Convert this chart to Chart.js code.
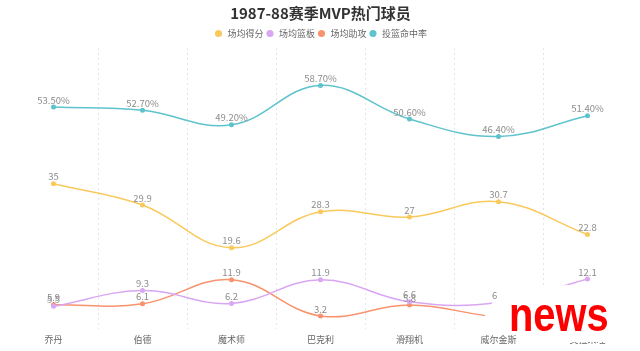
<!DOCTYPE html>
<html>
<head>
<meta charset="utf-8">
<script src="https://cdn.jsdelivr.net/npm/chart.js@4.4.1/dist/chart.umd.min.js"></script>
<style>
    html, body { margin: 0; padding: 0; background: #fff; }
    #wrap { position: relative; width: 640px; height: 351px; }
    #mask {
        position: absolute; left: 0; top: 0; width: 640px; height: 351px; background: #fff;
        clip-path: polygon(500px 292px, 530px 287px, 568px 285px, 630px 284px, 630px 342px, 518px 342px, 516px 333px, 500px 326px, 484px 318px, 487px 310px, 492px 303px, 498px 297px);
    }
    #news {
        position: absolute; left: 509px; top: 291px;
        font: bold 48px "Liberation Sans", Arial, sans-serif; line-height: 48px;
        color: #ff0000; transform: scaleX(0.83); transform-origin: left top;
    }
</style>
</head>
<body>
<div id="wrap">
    <canvas id="myChart" width="640" height="351"></canvas>
    <div id="mask"></div>
    <div id="news">news</div>
</div>
<script>
const players = ['乔丹', '伯德', '魔术师', '巴克利', '滑翔机', '威尔金斯', '奥拉朱旺'];
const points = [35, 29.9, 19.6, 28.3, 27, 30.7, 22.8];
const rebounds = [5.5, 9.3, 6.2, 11.9, 6.6, 6.4, 12.1];
const assists = [5.9, 6.1, 11.9, 3.2, 5.8, 2.9, 2.1];
const fgPct = [53.5, 52.7, 49.2, 58.7, 50.6, 46.4, 51.4];

Chart.defaults.font.family = '"Noto Sans CJK SC", "Noto Sans", sans-serif';

// draws the number above each point
const valueLabels = {
    id: 'valueLabels',
    afterDatasetsDraw(chart) {
        const c = chart.ctx;
        c.save();
        c.font = '9.5px "Noto Sans CJK SC", sans-serif';
        c.fillStyle = '#8c8c8c';
        c.textAlign = 'center';
        c.textBaseline = 'middle';
        chart.data.datasets.forEach((ds, i) => {
            chart.getDatasetMeta(i).data.forEach((pt, j) => {
                const v = ds.data[j];
                const txt = ds.percent ? v.toFixed(2) + '%' : String(v);
                c.fillText(txt, pt.x, pt.y - 7);
            });
        });
        c.restore();
    }
};

function line(label, data, color, percent) {
    return {
        label: label,
        data: data,
        percent: percent,
        borderColor: color,
        backgroundColor: color,
        borderWidth: 1.5,
        pointRadius: 2.5,
        pointBorderWidth: 0,
        tension: 0.4,
        fill: false
    };
}

const ctx = document.getElementById('myChart');
const myChart = new Chart(ctx, {
    type: 'line',
    data: {
        labels: players,
        datasets: [
            line('场均得分', points, '#f9c95b', false),
            line('场均篮板', rebounds, '#d9a6f3', false),
            line('场均助攻', assists, '#f8936e', false),
            line('投篮命中率', fgPct, '#5ec3cc', true)
        ]
    },
    options: {
        responsive: false,
        animation: false,
        devicePixelRatio: 1,
        layout: { padding: { left: 9, right: 8, top: 0, bottom: 1 } },
        plugins: {
            title: {
                display: true,
                text: '1987-88赛季MVP热门球员',
                color: '#333',
                font: { size: 15, weight: 'bold' },
                padding: { top: 4, bottom: 5 }
            },
            legend: {
                labels: {
                    usePointStyle: true,
                    pointStyle: 'circle',
                    boxWidth: 11,
                    boxHeight: 5,
                    padding: 2,
                    color: '#666',
                    font: { size: 9 }
                }
            },
            tooltip: { enabled: false }
        },
        scales: {
            x: {
                offset: true,
                grid: {
                    offset: true,
                    drawTicks: false,
                    // only the lines between players, not the outer edges
                    color: c => (c.type === 'tick' && c.index > 0) ? '#e4e4e4' : 'rgba(0,0,0,0)'
                },
                border: { display: false, dash: [2, 3] },
                ticks: { color: '#666', font: { size: 9 }, padding: 5 }
            },
            y: {
                display: false,
                min: 0,
                max: 67.7
            }
        }
    },
    plugins: [valueLabels]
});
</script>
</body>
</html>
